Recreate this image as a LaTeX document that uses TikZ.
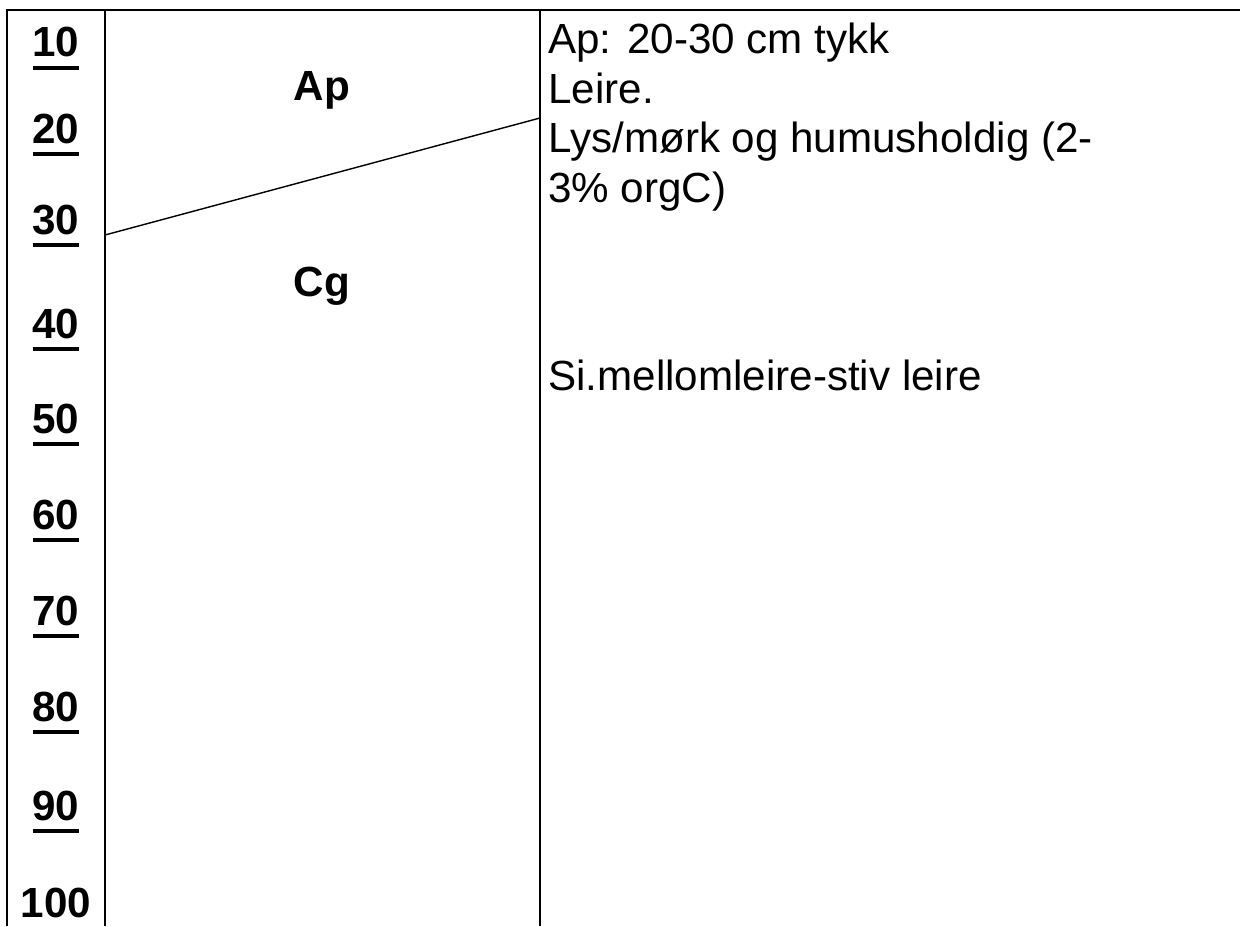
\documentclass[tikz,border=0pt]{standalone}
\usepackage{fontspec}
\setmainfont{Liberation Sans}
\usepackage{tikz}
\usetikzlibrary{positioning}

\newcommand{\depthul}[1]{\setbox0=\hbox{#1}\rlap{\rule[-7.5pt]{\wd0}{2.3pt}}\box0}

\begin{document}
\begin{tikzpicture}[
    x=0.02cm, y=-0.02cm,
    every node/.style={font=\fontsize{24}{28.3}\selectfont, inner sep=0pt},
    depthlbl/.style={anchor=base, font=\fontsize{24}{28.3}\selectfont\bfseries},
    horizon/.style={anchor=base, font=\fontsize{24}{28.3}\selectfont\bfseries},
    desc/.style={anchor=north west, align=left},
    frame/.style={line width=1.2pt, line join=miter},
    boundary/.style={line width=0.8pt}
  ]
  \useasboundingbox (0,0) rectangle (1240,926);

  % Frame and columns
  \draw[frame] (1240,10) -- (7,10) -- (7,926);
  \draw[frame] (105,10) -- (105,926);
  \draw[frame] (540,10) -- (540,926);

  % Depth scale
  \node[depthlbl] (d10) at (56,57) {\depthul{10}};
  \node[depthlbl] (d20) at (56,143) {\depthul{20}};
  \node[depthlbl] (d30) at (56,234) {\depthul{30}};
  \node[depthlbl] (d40) at (56,338) {\depthul{40}};
  \node[depthlbl] (d50) at (56,433) {\depthul{50}};
  \node[depthlbl] (d60) at (56,529) {\depthul{60}};
  \node[depthlbl] (d70) at (56,625) {\depthul{70}};
  \node[depthlbl] (d80) at (56,721) {\depthul{80}};
  \node[depthlbl] (d90) at (56,820) {\depthul{90}};
  \node[depthlbl] (d100) at (56,917) {100};

  % Horizons
  \node[horizon] (ap) at (322,101) {Ap};
  \node[horizon] (cg) at (322,296) {Cg};
  \coordinate (apleft) at (105,235);
  \coordinate (apright) at (540,118);
  \draw[boundary] (apleft) -- (apright);

  % Description
  \node[desc] (descap) at (548,22.6) {Ap: 20-30 cm tykk\\Leire.\\Lys/mørk og humusholdig (2-\\3\% orgC)};
  \node[desc, anchor=base west] (desccg) at (548,390) {Si.mellomleire-stiv leire};

\end{tikzpicture}
\end{document}
